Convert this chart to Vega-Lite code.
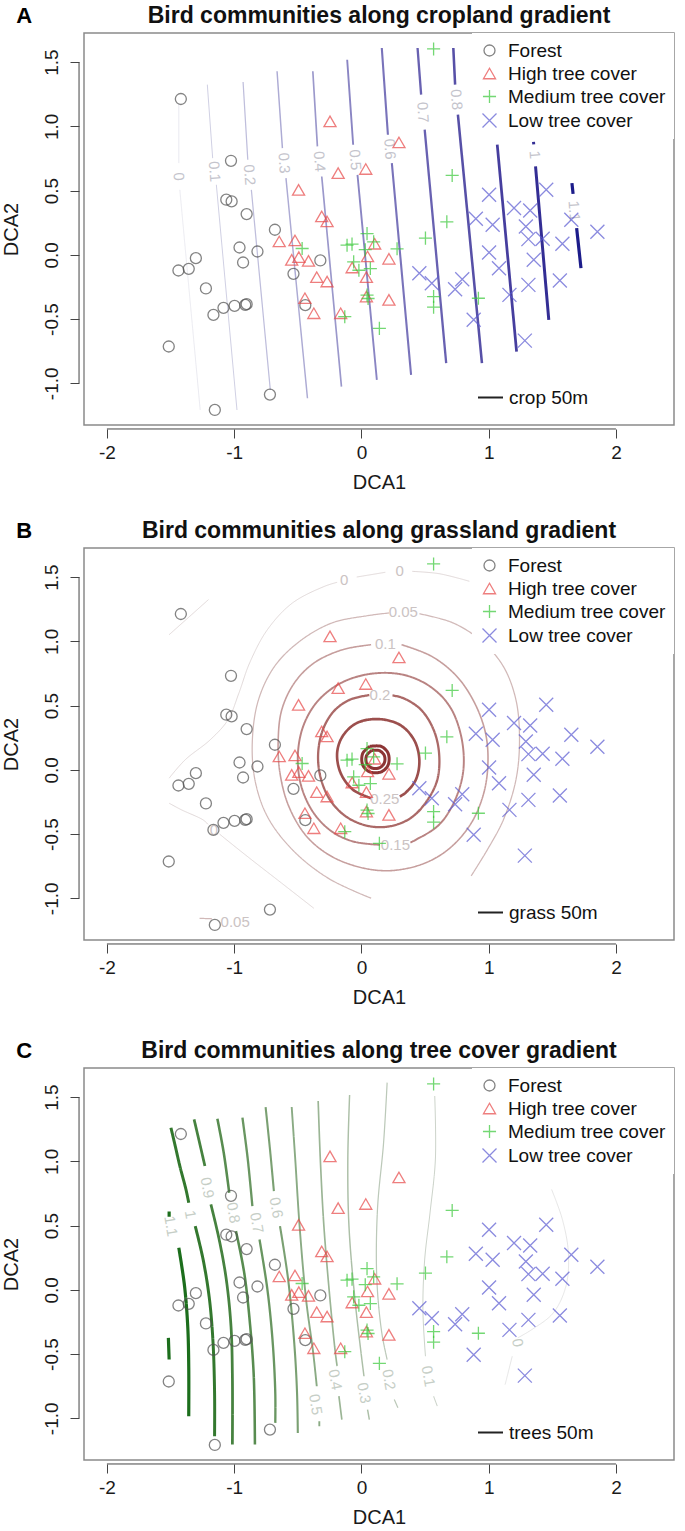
{
  "$schema": "https://vega.github.io/schema/vega-lite/v6.json",
  "padding": {"left": 0, "top": 3, "right": 0, "bottom": 0},
  "spacing": 25,
  "config": {
    "font": "Liberation Sans",
    "view": {"stroke": "#8a8a8a", "strokeWidth": 1.5},
    "axis": {"grid": false, "domain": false, "tickColor": "#444", "tickSize": 9, "tickWidth": 1, "labelFontSize": 19, "labelColor": "#1a1a1a", "titleFontSize": 20, "titleFontWeight": "normal", "titleColor": "#1a1a1a"},
    "title": {"fontSize": 23, "fontWeight": "bold", "color": "#111", "offset": -23.5},
    "legend": {"labelFontSize": 19, "labelColor": "#111"}
  },
  "resolve": {
    "scale": {"color": "independent", "strokeWidth": "independent", "strokeDash": "independent", "shape": "independent", "stroke": "independent", "size": "independent"},
    "legend": {"strokeDash": "independent", "shape": "independent", "stroke": "independent", "size": "independent"}
  },
  "datasets": {
    "pts": [
      {"g": "Forest", "x": -1.419, "y": 1.213}, {"g": "Forest", "x": -1.025, "y": 0.732}, {"g": "Forest", "x": -1.062, "y": 0.429}, {"g": "Forest", "x": -1.02, "y": 0.416},
      {"g": "Forest", "x": -0.902, "y": 0.317}, {"g": "Forest", "x": -0.68, "y": 0.195}, {"g": "Forest", "x": -0.958, "y": 0.057}, {"g": "Forest", "x": -0.817, "y": 0.026},
      {"g": "Forest", "x": -0.93, "y": -0.06}, {"g": "Forest", "x": -1.301, "y": -0.026}, {"g": "Forest", "x": -1.438, "y": -0.122}, {"g": "Forest", "x": -1.357, "y": -0.109},
      {"g": "Forest", "x": -0.323, "y": -0.044}, {"g": "Forest", "x": -0.534, "y": -0.148}, {"g": "Forest", "x": -1.222, "y": -0.262}, {"g": "Forest", "x": -1.163, "y": -0.468},
      {"g": "Forest", "x": -1.084, "y": -0.413}, {"g": "Forest", "x": -0.997, "y": -0.397}, {"g": "Forest", "x": -0.913, "y": -0.39}, {"g": "Forest", "x": -0.902, "y": -0.384},
      {"g": "Forest", "x": -0.441, "y": -0.392}, {"g": "Forest", "x": -1.514, "y": -0.714}, {"g": "Forest", "x": -0.719, "y": -1.088}, {"g": "Forest", "x": -1.152, "y": -1.208},
      {"g": "High tree cover", "x": -0.247, "y": 1.039}, {"g": "High tree cover", "x": 0.295, "y": 0.875}, {"g": "High tree cover", "x": -0.183, "y": 0.636}, {"g": "High tree cover", "x": 0.034, "y": 0.668},
      {"g": "High tree cover", "x": -0.494, "y": 0.506}, {"g": "High tree cover", "x": -0.312, "y": 0.299}, {"g": "High tree cover", "x": -0.27, "y": 0.26}, {"g": "High tree cover", "x": -0.646, "y": 0.104},
      {"g": "High tree cover", "x": -0.522, "y": 0.112}, {"g": "High tree cover", "x": -0.548, "y": -0.039}, {"g": "High tree cover", "x": -0.492, "y": -0.018}, {"g": "High tree cover", "x": -0.416, "y": -0.047},
      {"g": "High tree cover", "x": 0.104, "y": 0.086}, {"g": "High tree cover", "x": 0.048, "y": -0.013}, {"g": "High tree cover", "x": 0.216, "y": -0.031}, {"g": "High tree cover", "x": -0.073, "y": -0.099},
      {"g": "High tree cover", "x": 0.039, "y": -0.174}, {"g": "High tree cover", "x": -0.351, "y": -0.174}, {"g": "High tree cover", "x": -0.27, "y": -0.208}, {"g": "High tree cover", "x": -0.444, "y": -0.338},
      {"g": "High tree cover", "x": -0.374, "y": -0.455}, {"g": "High tree cover", "x": -0.163, "y": -0.455}, {"g": "High tree cover", "x": 0.039, "y": -0.325}, {"g": "High tree cover", "x": 0.216, "y": -0.351},
      {"g": "Medium tree cover", "x": 0.567, "y": 1.603}, {"g": "Medium tree cover", "x": 0.713, "y": 0.618}, {"g": "Medium tree cover", "x": 0.671, "y": 0.257}, {"g": "Medium tree cover", "x": 0.503, "y": 0.13},
      {"g": "Medium tree cover", "x": 0.28, "y": 0.047}, {"g": "Medium tree cover", "x": -0.466, "y": 0.049}, {"g": "Medium tree cover", "x": -0.113, "y": 0.075}, {"g": "Medium tree cover", "x": -0.074, "y": 0.083},
      {"g": "Medium tree cover", "x": 0.044, "y": 0.165}, {"g": "Medium tree cover", "x": 0.096, "y": 0.101}, {"g": "Medium tree cover", "x": -0.061, "y": -0.055}, {"g": "Medium tree cover", "x": 0.07, "y": -0.107},
      {"g": "Medium tree cover", "x": 0.044, "y": -0.314}, {"g": "Medium tree cover", "x": 0.052, "y": -0.34}, {"g": "Medium tree cover", "x": -0.131, "y": -0.482}, {"g": "Medium tree cover", "x": 0.141, "y": -0.573},
      {"g": "Medium tree cover", "x": 0.567, "y": -0.325}, {"g": "Medium tree cover", "x": 0.567, "y": -0.408}, {"g": "Medium tree cover", "x": 0.919, "y": -0.338}, {"g": "Medium tree cover", "x": 0.03, "y": 0.04},
      {"g": "Medium tree cover", "x": -0.02, "y": -0.12},
      {"g": "Low tree cover", "x": 1.003, "y": 0.468}, {"g": "Low tree cover", "x": 1.452, "y": 0.506}, {"g": "Low tree cover", "x": 1.199, "y": 0.364}, {"g": "Low tree cover", "x": 1.326, "y": 0.345},
      {"g": "Low tree cover", "x": 0.899, "y": 0.281}, {"g": "Low tree cover", "x": 1.031, "y": 0.234}, {"g": "Low tree cover", "x": 1.292, "y": 0.221}, {"g": "Low tree cover", "x": 1.649, "y": 0.273},
      {"g": "Low tree cover", "x": 1.854, "y": 0.179}, {"g": "Low tree cover", "x": 1.312, "y": 0.122}, {"g": "Low tree cover", "x": 1.424, "y": 0.125}, {"g": "Low tree cover", "x": 1.579, "y": 0.086},
      {"g": "Low tree cover", "x": 1.003, "y": 0.018}, {"g": "Low tree cover", "x": 1.354, "y": -0.039}, {"g": "Low tree cover", "x": 1.081, "y": -0.104}, {"g": "Low tree cover", "x": 0.455, "y": -0.143},
      {"g": "Low tree cover", "x": 0.553, "y": -0.221}, {"g": "Low tree cover", "x": 0.792, "y": -0.19}, {"g": "Low tree cover", "x": 0.736, "y": -0.268}, {"g": "Low tree cover", "x": 1.312, "y": -0.234},
      {"g": "Low tree cover", "x": 1.559, "y": -0.2}, {"g": "Low tree cover", "x": 1.163, "y": -0.312}, {"g": "Low tree cover", "x": 0.882, "y": -0.506}, {"g": "Low tree cover", "x": 1.284, "y": -0.668}
    ],
    "cA": [
      {"l": 0, "s": "0a", "i": 0, "x": -1.435, "y": 1.182, "v": "crop 50m"}, {"l": 0, "s": "0a", "i": 1, "x": -1.435, "y": 0.714, "v": "crop 50m"},
      {"l": 0, "s": "0b", "i": 0, "x": -1.427, "y": 0.506, "v": "crop 50m"}, {"l": 0, "s": "0b", "i": 1, "x": -1.267, "y": -1.208, "v": "crop 50m"},
      {"l": 0.1, "s": "1a", "i": 0, "x": -1.211, "y": 1.325, "v": "crop 50m"}, {"l": 0.1, "s": "1a", "i": 1, "x": -1.169, "y": 0.753, "v": "crop 50m"},
      {"l": 0.1, "s": "1b", "i": 0, "x": -1.14, "y": 0.545, "v": "crop 50m"}, {"l": 0.1, "s": "1b", "i": 1, "x": -0.978, "y": -1.208, "v": "crop 50m"},
      {"l": 0.2, "s": "2a", "i": 0, "x": -0.93, "y": 1.345, "v": "crop 50m"}, {"l": 0.2, "s": "2a", "i": 1, "x": -0.893, "y": 0.74, "v": "crop 50m"},
      {"l": 0.2, "s": "2b", "i": 0, "x": -0.865, "y": 0.506, "v": "crop 50m"}, {"l": 0.2, "s": "2b", "i": 1, "x": -0.716, "y": -1.052, "v": "crop 50m"},
      {"l": 0.3, "s": "3a", "i": 0, "x": -0.663, "y": 1.429, "v": "crop 50m"}, {"l": 0.3, "s": "3a", "i": 1, "x": -0.621, "y": 0.831, "v": "crop 50m"},
      {"l": 0.3, "s": "3b", "i": 0, "x": -0.593, "y": 0.597, "v": "crop 50m"}, {"l": 0.3, "s": "3b", "i": 1, "x": -0.424, "y": -1.117, "v": "crop 50m"},
      {"l": 0.4, "s": "4a", "i": 0, "x": -0.382, "y": 1.429, "v": "crop 50m"}, {"l": 0.4, "s": "4a", "i": 1, "x": -0.346, "y": 0.844, "v": "crop 50m"},
      {"l": 0.4, "s": "4b", "i": 0, "x": -0.312, "y": 0.61, "v": "crop 50m"}, {"l": 0.4, "s": "4b", "i": 1, "x": -0.157, "y": -1.026, "v": "crop 50m"},
      {"l": 0.5, "s": "5a", "i": 0, "x": -0.112, "y": 1.519, "v": "crop 50m"}, {"l": 0.5, "s": "5a", "i": 1, "x": -0.065, "y": 0.857, "v": "crop 50m"},
      {"l": 0.5, "s": "5b", "i": 0, "x": -0.031, "y": 0.623, "v": "crop 50m"}, {"l": 0.5, "s": "5b", "i": 1, "x": 0.121, "y": -0.974, "v": "crop 50m"},
      {"l": 0.6, "s": "6a", "i": 0, "x": 0.16, "y": 1.61, "v": "crop 50m"}, {"l": 0.6, "s": "6a", "i": 1, "x": 0.208, "y": 0.935, "v": "crop 50m"},
      {"l": 0.6, "s": "6b", "i": 0, "x": 0.239, "y": 0.714, "v": "crop 50m"}, {"l": 0.6, "s": "6b", "i": 1, "x": 0.39, "y": -0.935, "v": "crop 50m"},
      {"l": 0.7, "s": "7a", "i": 0, "x": 0.441, "y": 1.61, "v": "crop 50m"}, {"l": 0.7, "s": "7a", "i": 1, "x": 0.469, "y": 1.247, "v": "crop 50m"},
      {"l": 0.7, "s": "7b", "i": 0, "x": 0.497, "y": 0.974, "v": "crop 50m"}, {"l": 0.7, "s": "7b", "i": 1, "x": 0.666, "y": -0.844, "v": "crop 50m"},
      {"l": 0.8, "s": "8a", "i": 0, "x": 0.722, "y": 1.61, "v": "crop 50m"}, {"l": 0.8, "s": "8a", "i": 1, "x": 0.736, "y": 1.325, "v": "crop 50m"},
      {"l": 0.8, "s": "8b", "i": 0, "x": 0.758, "y": 1.091, "v": "crop 50m"}, {"l": 0.8, "s": "8b", "i": 1, "x": 0.947, "y": -0.844, "v": "crop 50m"},
      {"l": 0.9, "s": "9a", "i": 0, "x": 1.067, "y": 0.857, "v": "crop 50m"}, {"l": 0.9, "s": "9a", "i": 1, "x": 1.219, "y": -0.753, "v": "crop 50m"},
      {"l": 1.0, "s": "10a", "i": 0, "x": 1.352, "y": 0.88, "v": "crop 50m"}, {"l": 1.0, "s": "10a", "i": 1, "x": 1.354, "y": 0.86, "v": "crop 50m"},
      {"l": 1.0, "s": "10b", "i": 0, "x": 1.368, "y": 0.688, "v": "crop 50m"}, {"l": 1.0, "s": "10b", "i": 1, "x": 1.472, "y": -0.506, "v": "crop 50m"},
      {"l": 1.1, "s": "11a", "i": 0, "x": 1.654, "y": 0.558, "v": "crop 50m"}, {"l": 1.1, "s": "11a", "i": 1, "x": 1.663, "y": 0.475, "v": "crop 50m"},
      {"l": 1.1, "s": "11b", "i": 0, "x": 1.691, "y": 0.208, "v": "crop 50m"}, {"l": 1.1, "s": "11b", "i": 1, "x": 1.725, "y": -0.104, "v": "crop 50m"}
    ],
    "lA": [
      {"t": "0", "x": -1.435, "y": 0.61}, {"t": "0.1", "x": -1.154, "y": 0.649}, {"t": "0.2", "x": -0.879, "y": 0.623}, {"t": "0.3", "x": -0.607, "y": 0.714},
      {"t": "0.4", "x": -0.329, "y": 0.727}, {"t": "0.5", "x": -0.048, "y": 0.74}, {"t": "0.6", "x": 0.224, "y": 0.824}, {"t": "0.7", "x": 0.483, "y": 1.11},
      {"t": "0.8", "x": 0.747, "y": 1.208}, {"t": "1", "x": 1.362, "y": 0.779}, {"t": "1.1", "x": 1.672, "y": 0.341}
    ],
    "cB": [
      {"l": 0, "s": "0a", "i": 0, "x": -1.511, "y": 1.052, "v": "grass 50m"}, {"l": 0, "s": "0a", "i": 1, "x": -1.202, "y": 1.325, "v": "grass 50m"},
      {"l": 0, "s": "0b", "i": 0, "x": -0.374, "y": -1.078, "v": "grass 50m"}, {"l": 0, "s": "0b", "i": 1, "x": -0.626, "y": -0.883, "v": "grass 50m"}, {"l": 0, "s": "0b", "i": 2, "x": -0.879, "y": -0.688, "v": "grass 50m"},
      {"l": 0, "s": "0b", "i": 3, "x": -1.076, "y": -0.532, "v": "grass 50m"}, {"l": 0, "s": "0b", "i": 4, "x": -1.115, "y": -0.5, "v": "grass 50m"},
      {"l": 0, "s": "0f", "i": 0, "x": -1.205, "y": -0.425, "v": "grass 50m"}, {"l": 0, "s": "0f", "i": 1, "x": -1.244, "y": -0.39, "v": "grass 50m"}, {"l": 0, "s": "0f", "i": 2, "x": -1.413, "y": -0.312, "v": "grass 50m"},
      {"l": 0, "s": "0f", "i": 3, "x": -1.511, "y": -0.26, "v": "grass 50m"},
      {"l": 0, "s": "0c", "i": 0, "x": -1.511, "y": -0.065, "v": "grass 50m"}, {"l": 0, "s": "0c", "i": 1, "x": -1.385, "y": 0.078, "v": "grass 50m"}, {"l": 0, "s": "0c", "i": 2, "x": -1.188, "y": 0.234, "v": "grass 50m"},
      {"l": 0, "s": "0c", "i": 3, "x": -1.048, "y": 0.39, "v": "grass 50m"}, {"l": 0, "s": "0c", "i": 4, "x": -0.963, "y": 0.597, "v": "grass 50m"}, {"l": 0, "s": "0c", "i": 5, "x": -0.879, "y": 0.831, "v": "grass 50m"},
      {"l": 0, "s": "0c", "i": 6, "x": -0.739, "y": 1.091, "v": "grass 50m"}, {"l": 0, "s": "0c", "i": 7, "x": -0.542, "y": 1.299, "v": "grass 50m"}, {"l": 0, "s": "0c", "i": 8, "x": -0.289, "y": 1.429, "v": "grass 50m"},
      {"l": 0, "s": "0c", "i": 9, "x": -0.191, "y": 1.46, "v": "grass 50m"},
      {"l": 0, "s": "0d", "i": 0, "x": -0.037, "y": 1.501, "v": "grass 50m"}, {"l": 0, "s": "0d", "i": 1, "x": 0.188, "y": 1.538, "v": "grass 50m"},
      {"l": 0, "s": "0e", "i": 0, "x": 0.399, "y": 1.545, "v": "grass 50m"}, {"l": 0, "s": "0e", "i": 1, "x": 0.61, "y": 1.527, "v": "grass 50m"}, {"l": 0, "s": "0e", "i": 2, "x": 0.848, "y": 1.468, "v": "grass 50m"},
      {"l": 0.05, "s": "05a", "i": 0, "x": 0.216, "y": 1.221, "v": "grass 50m"}, {"l": 0.05, "s": "05a", "i": 1, "x": 0.048, "y": 1.2, "v": "grass 50m"}, {"l": 0.05, "s": "05a", "i": 2, "x": -0.233, "y": 1.143, "v": "grass 50m"},
      {"l": 0.05, "s": "05a", "i": 3, "x": -0.486, "y": 1.0, "v": "grass 50m"}, {"l": 0.05, "s": "05a", "i": 4, "x": -0.683, "y": 0.805, "v": "grass 50m"}, {"l": 0.05, "s": "05a", "i": 5, "x": -0.809, "y": 0.545, "v": "grass 50m"},
      {"l": 0.05, "s": "05a", "i": 6, "x": -0.857, "y": 0.234, "v": "grass 50m"}, {"l": 0.05, "s": "05a", "i": 7, "x": -0.837, "y": -0.078, "v": "grass 50m"}, {"l": 0.05, "s": "05a", "i": 8, "x": -0.739, "y": -0.364, "v": "grass 50m"},
      {"l": 0.05, "s": "05a", "i": 9, "x": -0.542, "y": -0.623, "v": "grass 50m"}, {"l": 0.05, "s": "05a", "i": 10, "x": -0.261, "y": -0.844, "v": "grass 50m"}, {"l": 0.05, "s": "05a", "i": 11, "x": 0.076, "y": -1.0, "v": "grass 50m"},
      {"l": 0.05, "s": "05b", "i": 0, "x": 0.455, "y": 1.215, "v": "grass 50m"}, {"l": 0.05, "s": "05b", "i": 1, "x": 0.722, "y": 1.143, "v": "grass 50m"}, {"l": 0.05, "s": "05b", "i": 2, "x": 0.947, "y": 1.0, "v": "grass 50m"},
      {"l": 0.05, "s": "05b", "i": 3, "x": 1.115, "y": 0.805, "v": "grass 50m"}, {"l": 0.05, "s": "05b", "i": 4, "x": 1.214, "y": 0.545, "v": "grass 50m"}, {"l": 0.05, "s": "05b", "i": 5, "x": 1.242, "y": 0.234, "v": "grass 50m"},
      {"l": 0.05, "s": "05b", "i": 6, "x": 1.214, "y": -0.078, "v": "grass 50m"}, {"l": 0.05, "s": "05b", "i": 7, "x": 1.115, "y": -0.39, "v": "grass 50m"}, {"l": 0.05, "s": "05b", "i": 8, "x": 0.989, "y": -0.623, "v": "grass 50m"},
      {"l": 0.05, "s": "05b", "i": 9, "x": 0.862, "y": -0.826, "v": "grass 50m"},
      {"l": 0.05, "s": "05c", "i": 0, "x": -1.272, "y": -1.156, "v": "grass 50m"}, {"l": 0.05, "s": "05c", "i": 1, "x": -1.174, "y": -1.16, "v": "grass 50m"},
      {"l": 0.1, "s": "1a", "i": 0, "x": 0.076, "y": 0.974, "v": "grass 50m"}, {"l": 0.1, "s": "1a", "i": 1, "x": -0.149, "y": 0.935, "v": "grass 50m"}, {"l": 0.1, "s": "1a", "i": 2, "x": -0.374, "y": 0.831, "v": "grass 50m"},
      {"l": 0.1, "s": "1a", "i": 3, "x": -0.528, "y": 0.675, "v": "grass 50m"}, {"l": 0.1, "s": "1a", "i": 4, "x": -0.626, "y": 0.467, "v": "grass 50m"}, {"l": 0.1, "s": "1a", "i": 5, "x": -0.654, "y": 0.234, "v": "grass 50m"},
      {"l": 0.1, "s": "1a", "i": 6, "x": -0.64, "y": -0.026, "v": "grass 50m"}, {"l": 0.1, "s": "1a", "i": 7, "x": -0.57, "y": -0.286, "v": "grass 50m"}, {"l": 0.1, "s": "1a", "i": 8, "x": -0.43, "y": -0.519, "v": "grass 50m"},
      {"l": 0.1, "s": "1a", "i": 9, "x": -0.233, "y": -0.675, "v": "grass 50m"}, {"l": 0.1, "s": "1a", "i": 10, "x": 0.02, "y": -0.766, "v": "grass 50m"}, {"l": 0.1, "s": "1a", "i": 11, "x": 0.244, "y": -0.784, "v": "grass 50m"},
      {"l": 0.1, "s": "1a", "i": 12, "x": 0.497, "y": -0.727, "v": "grass 50m"}, {"l": 0.1, "s": "1a", "i": 13, "x": 0.694, "y": -0.61, "v": "grass 50m"}, {"l": 0.1, "s": "1a", "i": 14, "x": 0.862, "y": -0.416, "v": "grass 50m"},
      {"l": 0.1, "s": "1a", "i": 15, "x": 0.961, "y": -0.182, "v": "grass 50m"}, {"l": 0.1, "s": "1a", "i": 16, "x": 0.994, "y": 0.052, "v": "grass 50m"}, {"l": 0.1, "s": "1a", "i": 17, "x": 0.975, "y": 0.286, "v": "grass 50m"},
      {"l": 0.1, "s": "1a", "i": 18, "x": 0.89, "y": 0.519, "v": "grass 50m"}, {"l": 0.1, "s": "1a", "i": 19, "x": 0.75, "y": 0.727, "v": "grass 50m"}, {"l": 0.1, "s": "1a", "i": 20, "x": 0.553, "y": 0.883, "v": "grass 50m"},
      {"l": 0.1, "s": "1a", "i": 21, "x": 0.315, "y": 0.974, "v": "grass 50m"},
      {"l": 0.15, "s": "15a", "i": 0, "x": 0.146, "y": -0.584, "v": "grass 50m"}, {"l": 0.15, "s": "15a", "i": 1, "x": -0.065, "y": -0.558, "v": "grass 50m"}, {"l": 0.15, "s": "15a", "i": 2, "x": -0.233, "y": -0.48, "v": "grass 50m"},
      {"l": 0.15, "s": "15a", "i": 3, "x": -0.374, "y": -0.338, "v": "grass 50m"}, {"l": 0.15, "s": "15a", "i": 4, "x": -0.472, "y": -0.13, "v": "grass 50m"}, {"l": 0.15, "s": "15a", "i": 5, "x": -0.5, "y": 0.104, "v": "grass 50m"},
      {"l": 0.15, "s": "15a", "i": 6, "x": -0.458, "y": 0.338, "v": "grass 50m"}, {"l": 0.15, "s": "15a", "i": 7, "x": -0.346, "y": 0.532, "v": "grass 50m"}, {"l": 0.15, "s": "15a", "i": 8, "x": -0.163, "y": 0.675, "v": "grass 50m"},
      {"l": 0.15, "s": "15a", "i": 9, "x": 0.076, "y": 0.748, "v": "grass 50m"}, {"l": 0.15, "s": "15a", "i": 10, "x": 0.329, "y": 0.74, "v": "grass 50m"}, {"l": 0.15, "s": "15a", "i": 11, "x": 0.539, "y": 0.649, "v": "grass 50m"},
      {"l": 0.15, "s": "15a", "i": 12, "x": 0.694, "y": 0.493, "v": "grass 50m"}, {"l": 0.15, "s": "15a", "i": 13, "x": 0.784, "y": 0.26, "v": "grass 50m"}, {"l": 0.15, "s": "15a", "i": 14, "x": 0.801, "y": 0.0, "v": "grass 50m"},
      {"l": 0.15, "s": "15a", "i": 15, "x": 0.736, "y": -0.234, "v": "grass 50m"}, {"l": 0.15, "s": "15a", "i": 16, "x": 0.61, "y": -0.428, "v": "grass 50m"}, {"l": 0.15, "s": "15a", "i": 17, "x": 0.427, "y": -0.545, "v": "grass 50m"},
      {"l": 0.15, "s": "15a", "i": 18, "x": 0.385, "y": -0.566, "v": "grass 50m"},
      {"l": 0.2, "s": "2a", "i": 0, "x": 0.062, "y": 0.582, "v": "grass 50m"}, {"l": 0.2, "s": "2a", "i": 1, "x": -0.093, "y": 0.545, "v": "grass 50m"}, {"l": 0.2, "s": "2a", "i": 2, "x": -0.219, "y": 0.454, "v": "grass 50m"},
      {"l": 0.2, "s": "2a", "i": 3, "x": -0.303, "y": 0.312, "v": "grass 50m"}, {"l": 0.2, "s": "2a", "i": 4, "x": -0.34, "y": 0.13, "v": "grass 50m"}, {"l": 0.2, "s": "2a", "i": 5, "x": -0.323, "y": -0.052, "v": "grass 50m"},
      {"l": 0.2, "s": "2a", "i": 6, "x": -0.247, "y": -0.234, "v": "grass 50m"}, {"l": 0.2, "s": "2a", "i": 7, "x": -0.121, "y": -0.364, "v": "grass 50m"}, {"l": 0.2, "s": "2a", "i": 8, "x": 0.048, "y": -0.436, "v": "grass 50m"},
      {"l": 0.2, "s": "2a", "i": 9, "x": 0.216, "y": -0.441, "v": "grass 50m"}, {"l": 0.2, "s": "2a", "i": 10, "x": 0.385, "y": -0.377, "v": "grass 50m"}, {"l": 0.2, "s": "2a", "i": 11, "x": 0.511, "y": -0.247, "v": "grass 50m"},
      {"l": 0.2, "s": "2a", "i": 12, "x": 0.596, "y": -0.078, "v": "grass 50m"}, {"l": 0.2, "s": "2a", "i": 13, "x": 0.61, "y": 0.13, "v": "grass 50m"}, {"l": 0.2, "s": "2a", "i": 14, "x": 0.567, "y": 0.312, "v": "grass 50m"},
      {"l": 0.2, "s": "2a", "i": 15, "x": 0.469, "y": 0.467, "v": "grass 50m"}, {"l": 0.2, "s": "2a", "i": 16, "x": 0.329, "y": 0.558, "v": "grass 50m"}, {"l": 0.2, "s": "2a", "i": 17, "x": 0.244, "y": 0.579, "v": "grass 50m"},
      {"l": 0.25, "s": "25a", "i": 0, "x": 0.076, "y": -0.221, "v": "grass 50m"}, {"l": 0.25, "s": "25a", "i": 1, "x": -0.065, "y": -0.156, "v": "grass 50m"}, {"l": 0.25, "s": "25a", "i": 2, "x": -0.163, "y": -0.026, "v": "grass 50m"},
      {"l": 0.25, "s": "25a", "i": 3, "x": -0.191, "y": 0.13, "v": "grass 50m"}, {"l": 0.25, "s": "25a", "i": 4, "x": -0.149, "y": 0.26, "v": "grass 50m"}, {"l": 0.25, "s": "25a", "i": 5, "x": -0.037, "y": 0.364, "v": "grass 50m"},
      {"l": 0.25, "s": "25a", "i": 6, "x": 0.132, "y": 0.395, "v": "grass 50m"}, {"l": 0.25, "s": "25a", "i": 7, "x": 0.301, "y": 0.351, "v": "grass 50m"}, {"l": 0.25, "s": "25a", "i": 8, "x": 0.413, "y": 0.234, "v": "grass 50m"},
      {"l": 0.25, "s": "25a", "i": 9, "x": 0.455, "y": 0.078, "v": "grass 50m"}, {"l": 0.25, "s": "25a", "i": 10, "x": 0.427, "y": -0.078, "v": "grass 50m"}, {"l": 0.25, "s": "25a", "i": 11, "x": 0.343, "y": -0.182, "v": "grass 50m"},
      {"l": 0.25, "s": "25a", "i": 12, "x": 0.301, "y": -0.208, "v": "grass 50m"},
      {"l": 0.3, "s": "3o", "i": 0, "x": 0.065, "y": 0.182, "v": "grass 50m"}, {"l": 0.3, "s": "3o", "i": 1, "x": 0.155, "y": 0.182, "v": "grass 50m"}, {"l": 0.3, "s": "3o", "i": 2, "x": 0.21, "y": 0.128, "v": "grass 50m"},
      {"l": 0.3, "s": "3o", "i": 3, "x": 0.21, "y": 0.038, "v": "grass 50m"}, {"l": 0.3, "s": "3o", "i": 4, "x": 0.155, "y": -0.016, "v": "grass 50m"}, {"l": 0.3, "s": "3o", "i": 5, "x": 0.065, "y": -0.016, "v": "grass 50m"},
      {"l": 0.3, "s": "3o", "i": 6, "x": 0.01, "y": 0.038, "v": "grass 50m"}, {"l": 0.3, "s": "3o", "i": 7, "x": 0.01, "y": 0.128, "v": "grass 50m"}, {"l": 0.3, "s": "3o", "i": 8, "x": 0.065, "y": 0.182, "v": "grass 50m"},
      {"l": 0.3, "s": "3i", "i": 0, "x": 0.08, "y": 0.15, "v": "grass 50m"}, {"l": 0.3, "s": "3i", "i": 1, "x": 0.14, "y": 0.15, "v": "grass 50m"}, {"l": 0.3, "s": "3i", "i": 2, "x": 0.18, "y": 0.11, "v": "grass 50m"},
      {"l": 0.3, "s": "3i", "i": 3, "x": 0.18, "y": 0.055, "v": "grass 50m"}, {"l": 0.3, "s": "3i", "i": 4, "x": 0.14, "y": 0.015, "v": "grass 50m"}, {"l": 0.3, "s": "3i", "i": 5, "x": 0.08, "y": 0.015, "v": "grass 50m"},
      {"l": 0.3, "s": "3i", "i": 6, "x": 0.04, "y": 0.055, "v": "grass 50m"}, {"l": 0.3, "s": "3i", "i": 7, "x": 0.04, "y": 0.11, "v": "grass 50m"}, {"l": 0.3, "s": "3i", "i": 8, "x": 0.08, "y": 0.15, "v": "grass 50m"}
    ],
    "lB": [
      {"t": "0", "x": -0.135, "y": 1.481}, {"t": "0", "x": 0.301, "y": 1.545}, {"t": "0.05", "x": 0.329, "y": 1.226}, {"t": "0.1", "x": 0.188, "y": 0.982},
      {"t": "0.2", "x": 0.146, "y": 0.584}, {"t": "0.25", "x": 0.183, "y": -0.229}, {"t": "0.15", "x": 0.267, "y": -0.584}, {"t": "0.05", "x": -0.992, "y": -1.182},
      {"t": "0", "x": -1.16, "y": -0.47}
    ],
    "cC": [
      {"l": 1.1, "s": "11a", "i": 0, "x": -1.511, "y": 0.61, "v": "trees 50m"}, {"l": 1.1, "s": "11a", "i": 1, "x": -1.511, "y": 0.569, "v": "trees 50m"},
      {"l": 1.1, "s": "11b", "i": 0, "x": -1.435, "y": 0.327, "v": "trees 50m"}, {"l": 1.1, "s": "11b", "i": 1, "x": -1.39, "y": 0.029, "v": "trees 50m"}, {"l": 1.1, "s": "11b", "i": 2, "x": -1.365, "y": -0.283, "v": "trees 50m"},
      {"l": 1.1, "s": "11b", "i": 3, "x": -1.357, "y": -0.595, "v": "trees 50m"}, {"l": 1.1, "s": "11b", "i": 4, "x": -1.357, "y": -0.984, "v": "trees 50m"},
      {"l": 1.1, "s": "11c", "i": 0, "x": -1.517, "y": -0.374, "v": "trees 50m"}, {"l": 1.1, "s": "11c", "i": 1, "x": -1.511, "y": -0.543, "v": "trees 50m"},
      {"l": 1.0, "s": "10a", "i": 0, "x": -1.497, "y": 1.262, "v": "trees 50m"}, {"l": 1.0, "s": "10a", "i": 1, "x": -1.463, "y": 1.119, "v": "trees 50m"}, {"l": 1.0, "s": "10a", "i": 2, "x": -1.427, "y": 0.964, "v": "trees 50m"},
      {"l": 1.0, "s": "10a", "i": 3, "x": -1.379, "y": 0.782, "v": "trees 50m"}, {"l": 1.0, "s": "10a", "i": 4, "x": -1.357, "y": 0.678, "v": "trees 50m"},
      {"l": 1.0, "s": "10b", "i": 0, "x": -1.306, "y": 0.496, "v": "trees 50m"}, {"l": 1.0, "s": "10b", "i": 1, "x": -1.244, "y": 0.236, "v": "trees 50m"}, {"l": 1.0, "s": "10b", "i": 2, "x": -1.194, "y": -0.075, "v": "trees 50m"},
      {"l": 1.0, "s": "10b", "i": 3, "x": -1.166, "y": -0.413, "v": "trees 50m"}, {"l": 1.0, "s": "10b", "i": 4, "x": -1.154, "y": -0.803, "v": "trees 50m"}, {"l": 1.0, "s": "10b", "i": 5, "x": -1.154, "y": -1.14, "v": "trees 50m"},
      {"l": 0.9, "s": "9a", "i": 0, "x": -1.315, "y": 1.327, "v": "trees 50m"}, {"l": 0.9, "s": "9a", "i": 1, "x": -1.272, "y": 1.145, "v": "trees 50m"}, {"l": 0.9, "s": "9a", "i": 2, "x": -1.23, "y": 0.964, "v": "trees 50m"},
      {"l": 0.9, "s": "9b", "i": 0, "x": -1.183, "y": 0.665, "v": "trees 50m"}, {"l": 0.9, "s": "9b", "i": 1, "x": -1.118, "y": 0.392, "v": "trees 50m"}, {"l": 0.9, "s": "9b", "i": 2, "x": -1.062, "y": 0.081, "v": "trees 50m"},
      {"l": 0.9, "s": "9b", "i": 3, "x": -1.025, "y": -0.283, "v": "trees 50m"}, {"l": 0.9, "s": "9b", "i": 4, "x": -1.014, "y": -0.673, "v": "trees 50m"}, {"l": 0.9, "s": "9b", "i": 5, "x": -1.014, "y": -1.205, "v": "trees 50m"},
      {"l": 0.8, "s": "8a", "i": 0, "x": -1.132, "y": 1.332, "v": "trees 50m"}, {"l": 0.8, "s": "8a", "i": 1, "x": -1.082, "y": 1.067, "v": "trees 50m"}, {"l": 0.8, "s": "8a", "i": 2, "x": -1.039, "y": 0.756, "v": "trees 50m"},
      {"l": 0.8, "s": "8b", "i": 0, "x": -0.986, "y": 0.457, "v": "trees 50m"}, {"l": 0.8, "s": "8b", "i": 1, "x": -0.921, "y": 0.132, "v": "trees 50m"}, {"l": 0.8, "s": "8b", "i": 2, "x": -0.874, "y": -0.283, "v": "trees 50m"},
      {"l": 0.8, "s": "8b", "i": 3, "x": -0.846, "y": -0.673, "v": "trees 50m"}, {"l": 0.8, "s": "8b", "i": 4, "x": -0.837, "y": -1.205, "v": "trees 50m"},
      {"l": 0.7, "s": "7a", "i": 0, "x": -0.935, "y": 1.34, "v": "trees 50m"}, {"l": 0.7, "s": "7a", "i": 1, "x": -0.893, "y": 1.015, "v": "trees 50m"}, {"l": 0.7, "s": "7a", "i": 2, "x": -0.857, "y": 0.652, "v": "trees 50m"},
      {"l": 0.7, "s": "7b", "i": 0, "x": -0.801, "y": 0.392, "v": "trees 50m"}, {"l": 0.7, "s": "7b", "i": 1, "x": -0.739, "y": 0.003, "v": "trees 50m"}, {"l": 0.7, "s": "7b", "i": 2, "x": -0.697, "y": -0.413, "v": "trees 50m"},
      {"l": 0.7, "s": "7b", "i": 3, "x": -0.677, "y": -0.803, "v": "trees 50m"}, {"l": 0.7, "s": "7b", "i": 4, "x": -0.677, "y": -1.036, "v": "trees 50m"},
      {"l": 0.6, "s": "6a", "i": 0, "x": -0.753, "y": 1.423, "v": "trees 50m"}, {"l": 0.6, "s": "6a", "i": 1, "x": -0.716, "y": 1.067, "v": "trees 50m"}, {"l": 0.6, "s": "6a", "i": 2, "x": -0.688, "y": 0.769, "v": "trees 50m"},
      {"l": 0.6, "s": "6b", "i": 0, "x": -0.64, "y": 0.496, "v": "trees 50m"}, {"l": 0.6, "s": "6b", "i": 1, "x": -0.576, "y": 0.081, "v": "trees 50m"}, {"l": 0.6, "s": "6b", "i": 2, "x": -0.528, "y": -0.413, "v": "trees 50m"},
      {"l": 0.6, "s": "6b", "i": 3, "x": -0.506, "y": -0.803, "v": "trees 50m"}, {"l": 0.6, "s": "6b", "i": 4, "x": -0.5, "y": -1.114, "v": "trees 50m"},
      {"l": 0.5, "s": "5a", "i": 0, "x": -0.548, "y": 1.423, "v": "trees 50m"}, {"l": 0.5, "s": "5a", "i": 1, "x": -0.52, "y": 1.015, "v": "trees 50m"}, {"l": 0.5, "s": "5a", "i": 2, "x": -0.486, "y": 0.496, "v": "trees 50m"},
      {"l": 0.5, "s": "5a", "i": 3, "x": -0.435, "y": -0.075, "v": "trees 50m"}, {"l": 0.5, "s": "5a", "i": 4, "x": -0.379, "y": -0.491, "v": "trees 50m"}, {"l": 0.5, "s": "5a", "i": 5, "x": -0.351, "y": -0.751, "v": "trees 50m"},
      {"l": 0.5, "s": "5b", "i": 0, "x": -0.331, "y": -1.023, "v": "trees 50m"}, {"l": 0.5, "s": "5b", "i": 1, "x": -0.331, "y": -1.062, "v": "trees 50m"},
      {"l": 0.4, "s": "4a", "i": 0, "x": -0.34, "y": 1.47, "v": "trees 50m"}, {"l": 0.4, "s": "4a", "i": 1, "x": -0.323, "y": 1.015, "v": "trees 50m"}, {"l": 0.4, "s": "4a", "i": 2, "x": -0.295, "y": 0.496, "v": "trees 50m"},
      {"l": 0.4, "s": "4a", "i": 3, "x": -0.247, "y": -0.075, "v": "trees 50m"}, {"l": 0.4, "s": "4a", "i": 4, "x": -0.205, "y": -0.491, "v": "trees 50m"}, {"l": 0.4, "s": "4a", "i": 5, "x": -0.191, "y": -0.595, "v": "trees 50m"},
      {"l": 0.4, "s": "4b", "i": 0, "x": -0.177, "y": -0.828, "v": "trees 50m"}, {"l": 0.4, "s": "4b", "i": 1, "x": -0.154, "y": -1.01, "v": "trees 50m"},
      {"l": 0.3, "s": "3a", "i": 0, "x": -0.093, "y": 1.517, "v": "trees 50m"}, {"l": 0.3, "s": "3a", "i": 1, "x": -0.107, "y": 1.015, "v": "trees 50m"}, {"l": 0.3, "s": "3a", "i": 2, "x": -0.098, "y": 0.496, "v": "trees 50m"},
      {"l": 0.3, "s": "3a", "i": 3, "x": -0.051, "y": -0.075, "v": "trees 50m"}, {"l": 0.3, "s": "3a", "i": 4, "x": -0.003, "y": -0.491, "v": "trees 50m"}, {"l": 0.3, "s": "3a", "i": 5, "x": 0.02, "y": -0.673, "v": "trees 50m"},
      {"l": 0.3, "s": "3b", "i": 0, "x": 0.048, "y": -0.932, "v": "trees 50m"}, {"l": 0.3, "s": "3b", "i": 1, "x": 0.062, "y": -1.01, "v": "trees 50m"},
      {"l": 0.2, "s": "2a", "i": 0, "x": 0.202, "y": 1.613, "v": "trees 50m"}, {"l": 0.2, "s": "2a", "i": 1, "x": 0.174, "y": 1.145, "v": "trees 50m"}, {"l": 0.2, "s": "2a", "i": 2, "x": 0.126, "y": 0.626, "v": "trees 50m"},
      {"l": 0.2, "s": "2a", "i": 3, "x": 0.121, "y": 0.081, "v": "trees 50m"}, {"l": 0.2, "s": "2a", "i": 4, "x": 0.16, "y": -0.335, "v": "trees 50m"}, {"l": 0.2, "s": "2a", "i": 5, "x": 0.202, "y": -0.543, "v": "trees 50m"},
      {"l": 0.2, "s": "2b", "i": 0, "x": 0.258, "y": -0.854, "v": "trees 50m"}, {"l": 0.2, "s": "2b", "i": 1, "x": 0.287, "y": -0.919, "v": "trees 50m"},
      {"l": 0.1, "s": "1a", "i": 0, "x": 0.576, "y": 1.509, "v": "trees 50m"}, {"l": 0.1, "s": "1a", "i": 1, "x": 0.581, "y": 1.015, "v": "trees 50m"}, {"l": 0.1, "s": "1a", "i": 2, "x": 0.539, "y": 0.6, "v": "trees 50m"},
      {"l": 0.1, "s": "1a", "i": 3, "x": 0.497, "y": 0.236, "v": "trees 50m"}, {"l": 0.1, "s": "1a", "i": 4, "x": 0.483, "y": -0.153, "v": "trees 50m"}, {"l": 0.1, "s": "1a", "i": 5, "x": 0.503, "y": -0.517, "v": "trees 50m"},
      {"l": 0.1, "s": "1b", "i": 0, "x": 0.567, "y": -0.829, "v": "trees 50m"}, {"l": 0.1, "s": "1b", "i": 1, "x": 0.596, "y": -0.906, "v": "trees 50m"},
      {"l": 0, "s": "0a", "i": 0, "x": 1.494, "y": 0.782, "v": "trees 50m"}, {"l": 0, "s": "0a", "i": 1, "x": 1.579, "y": 0.548, "v": "trees 50m"}, {"l": 0, "s": "0a", "i": 2, "x": 1.626, "y": 0.288, "v": "trees 50m"},
      {"l": 0, "s": "0a", "i": 3, "x": 1.607, "y": 0.029, "v": "trees 50m"}, {"l": 0, "s": "0a", "i": 4, "x": 1.508, "y": -0.179, "v": "trees 50m"}, {"l": 0, "s": "0a", "i": 5, "x": 1.34, "y": -0.309, "v": "trees 50m"},
      {"l": 0, "s": "0a", "i": 6, "x": 1.228, "y": -0.374, "v": "trees 50m"},
      {"l": 0, "s": "0b", "i": 0, "x": 1.185, "y": -0.517, "v": "trees 50m"}, {"l": 0, "s": "0b", "i": 1, "x": 1.129, "y": -0.738, "v": "trees 50m"}
    ],
    "lC": [
      {"t": "1.1", "x": -1.497, "y": 0.496}, {"t": "1", "x": -1.343, "y": 0.587}, {"t": "0.9", "x": -1.211, "y": 0.795}, {"t": "0.8", "x": -1.006, "y": 0.6},
      {"t": "0.7", "x": -0.823, "y": 0.522}, {"t": "0.6", "x": -0.669, "y": 0.639}, {"t": "0.5", "x": -0.36, "y": -0.893}, {"t": "0.4", "x": -0.205, "y": -0.699},
      {"t": "0.3", "x": 0.02, "y": -0.803}, {"t": "0.2", "x": 0.216, "y": -0.699}, {"t": "0.1", "x": 0.525, "y": -0.673}, {"t": "0", "x": 1.228, "y": -0.413}
    ]
  },
  "vconcat": [
    {
      "width": 590, "height": 392,
      "title": {"text": "Bird communities along cropland gradient"},
      "layer": [
        {"data": {"name": "cA"}, "mark": {"type": "line", "strokeCap": "butt"},
         "encoding": {
           "x": {"field": "x", "type": "quantitative", "scale": {"domain": [-2.18, 2.456], "nice": false, "zero": false},
                 "axis": {"values": [-2, -1, 0, 1, 2], "title": "DCA1", "offset": 4, "labelPadding": 5, "titlePadding": 10, "labelExpr": "(datum.value < 0 ? '-' : '') + format(abs(datum.value), 'd')"}},
           "y": {"field": "y", "type": "quantitative", "scale": {"domain": [-1.325, 1.727], "nice": false, "zero": false},
                 "axis": {"values": [-1, -0.5, 0, 0.5, 1, 1.5], "title": "DCA2", "offset": 5, "labelAngle": 270, "labelAlign": "center", "labelBaseline": "bottom", "labelPadding": 9, "titlePadding": 21, "labelExpr": "(datum.value < 0 ? '-' : '') + format(abs(datum.value), '.1f')"}},
           "detail": {"field": "s"}, "order": {"field": "i", "type": "quantitative"},
           "color": {"field": "l", "type": "quantitative", "scale": {"domain": [0, 1.1], "range": ["#e4e4ec", "#1c1c8a"]}, "legend": null},
           "strokeWidth": {"field": "l", "type": "quantitative", "scale": {"domain": [0, 1.1], "range": [0.8, 3.2]}, "legend": null},
           "strokeDash": {"field": "v", "type": "nominal", "scale": {"range": [[1, 0]]}, "legend": {"orient": "none", "legendX": 393, "legendY": 351, "title": null, "symbolType": "stroke", "symbolStrokeColor": "#222", "symbolStrokeWidth": 2, "symbolSize": 625, "labelFontSize": 19, "labelOffset": 5, "padding": 0}}}},
        {"data": {"name": "lA"}, "mark": {"type": "text", "angle": 86, "fontSize": 15, "fill": "#c4c4cc"},
         "encoding": {"x": {"field": "x", "type": "quantitative"}, "y": {"field": "y", "type": "quantitative"}, "text": {"field": "t"}}},
        {"data": {"name": "pts"}, "mark": {"type": "point", "filled": false, "strokeWidth": 1.3},
         "encoding": {
           "x": {"field": "x", "type": "quantitative"}, "y": {"field": "y", "type": "quantitative"},
           "shape": {"field": "g", "type": "nominal", "scale": {"domain": ["Forest", "High tree cover", "Medium tree cover", "Low tree cover"], "range": ["circle", "triangle-up", "M-1,0L1,0M0,-1L0,1", "M-1,-1L1,1M-1,1L1,-1"]}, "legend": {"orient": "top-right", "offset": 0, "padding": 8, "fillColor": "white", "rowPadding": 3, "labelOffset": 9, "title": null, "symbolStrokeWidth": 1.3}},
           "stroke": {"field": "g", "type": "nominal", "scale": {"domain": ["Forest", "High tree cover", "Medium tree cover", "Low tree cover"], "range": ["#505050", "#e84848", "#38c838", "#5a5ad2"]}, "legend": {"orient": "top-right", "offset": 0, "padding": 8, "fillColor": "white", "rowPadding": 3, "labelOffset": 9, "title": null, "symbolStrokeWidth": 1.3}},
           "size": {"field": "g", "type": "nominal", "scale": {"domain": ["Forest", "High tree cover", "Medium tree cover", "Low tree cover"], "range": [121, 196, 225, 144]}, "legend": {"orient": "top-right", "offset": 0, "padding": 8, "fillColor": "white", "rowPadding": 3, "labelOffset": 9, "title": null, "symbolStrokeWidth": 1.3}}}},
        {"data": {"values": [{"k": 1}]}, "mark": {"type": "rule", "color": "#444", "strokeWidth": 1, "clip": false}, "encoding": {"x": {"datum": -2}, "x2": {"datum": 2}, "y": {"datum": -1.356}}},
        {"data": {"values": [{"k": 1}]}, "mark": {"type": "rule", "color": "#444", "strokeWidth": 1, "clip": false}, "encoding": {"y": {"datum": -1}, "y2": {"datum": 1.5}, "x": {"datum": -2.219}}},
        {"data": {"values": [{"k": "A"}]}, "mark": {"type": "text", "fontSize": 22, "fontWeight": "bold", "fill": "#000", "clip": false}, "encoding": {"text": {"field": "k"}, "x": {"datum": -2.65}, "y": {"datum": 1.863}}}
      ]
    },
    {
      "spacing": 30,
      "resolve": {
        "scale": {"color": "independent", "strokeWidth": "independent", "strokeDash": "independent", "shape": "independent", "stroke": "independent", "size": "independent"},
        "legend": {"strokeDash": "independent", "shape": "independent", "stroke": "independent", "size": "independent"}
      },
      "vconcat": [
        {
          "width": 590, "height": 392,
          "title": {"text": "Bird communities along grassland gradient"},
          "layer": [
            {"data": {"name": "cB"}, "mark": {"type": "line", "interpolate": "catmull-rom", "strokeCap": "butt"},
             "encoding": {
               "x": {"field": "x", "type": "quantitative", "scale": {"domain": [-2.18, 2.456], "nice": false, "zero": false},
                     "axis": {"values": [-2, -1, 0, 1, 2], "title": "DCA1", "offset": 4, "labelPadding": 5, "titlePadding": 10, "labelExpr": "(datum.value < 0 ? '-' : '') + format(abs(datum.value), 'd')"}},
               "y": {"field": "y", "type": "quantitative", "scale": {"domain": [-1.325, 1.727], "nice": false, "zero": false},
                     "axis": {"values": [-1, -0.5, 0, 0.5, 1, 1.5], "title": "DCA2", "offset": 5, "labelAngle": 270, "labelAlign": "center", "labelBaseline": "bottom", "labelPadding": 9, "titlePadding": 21, "labelExpr": "(datum.value < 0 ? '-' : '') + format(abs(datum.value), '.1f')"}},
               "detail": {"field": "s"}, "order": {"field": "i", "type": "quantitative"},
               "color": {"field": "l", "type": "quantitative", "scale": {"domain": [0, 0.3], "range": ["#dcd4d4", "#8c3434"]}, "legend": null},
               "strokeWidth": {"field": "l", "type": "quantitative", "scale": {"domain": [0, 0.3], "range": [0.9, 3]}, "legend": null},
               "strokeDash": {"field": "v", "type": "nominal", "scale": {"range": [[1, 0]]}, "legend": {"orient": "none", "legendX": 393, "legendY": 351, "title": null, "symbolType": "stroke", "symbolStrokeColor": "#222", "symbolStrokeWidth": 2, "symbolSize": 625, "labelFontSize": 19, "labelOffset": 5, "padding": 0}}}},
            {"data": {"name": "lB"}, "mark": {"type": "text", "angle": 0, "fontSize": 15, "fill": "#cbc3c3"},
             "encoding": {"x": {"field": "x", "type": "quantitative"}, "y": {"field": "y", "type": "quantitative"}, "text": {"field": "t"}}},
            {"data": {"name": "pts"}, "mark": {"type": "point", "filled": false, "strokeWidth": 1.3},
             "encoding": {
               "x": {"field": "x", "type": "quantitative"}, "y": {"field": "y", "type": "quantitative"},
               "shape": {"field": "g", "type": "nominal", "scale": {"domain": ["Forest", "High tree cover", "Medium tree cover", "Low tree cover"], "range": ["circle", "triangle-up", "M-1,0L1,0M0,-1L0,1", "M-1,-1L1,1M-1,1L1,-1"]}, "legend": {"orient": "top-right", "offset": 0, "padding": 8, "fillColor": "white", "rowPadding": 3, "labelOffset": 9, "title": null, "symbolStrokeWidth": 1.3}},
               "stroke": {"field": "g", "type": "nominal", "scale": {"domain": ["Forest", "High tree cover", "Medium tree cover", "Low tree cover"], "range": ["#505050", "#e84848", "#38c838", "#5a5ad2"]}, "legend": {"orient": "top-right", "offset": 0, "padding": 8, "fillColor": "white", "rowPadding": 3, "labelOffset": 9, "title": null, "symbolStrokeWidth": 1.3}},
               "size": {"field": "g", "type": "nominal", "scale": {"domain": ["Forest", "High tree cover", "Medium tree cover", "Low tree cover"], "range": [121, 196, 225, 144]}, "legend": {"orient": "top-right", "offset": 0, "padding": 8, "fillColor": "white", "rowPadding": 3, "labelOffset": 9, "title": null, "symbolStrokeWidth": 1.3}}}},
            {"data": {"values": [{"k": 1}]}, "mark": {"type": "rule", "color": "#444", "strokeWidth": 1, "clip": false}, "encoding": {"x": {"datum": -2}, "x2": {"datum": 2}, "y": {"datum": -1.356}}},
            {"data": {"values": [{"k": 1}]}, "mark": {"type": "rule", "color": "#444", "strokeWidth": 1, "clip": false}, "encoding": {"y": {"datum": -1}, "y2": {"datum": 1.5}, "x": {"datum": -2.219}}},
            {"data": {"values": [{"k": "B"}]}, "mark": {"type": "text", "fontSize": 22, "fontWeight": "bold", "fill": "#000", "clip": false}, "encoding": {"text": {"field": "k"}, "x": {"datum": -2.65}, "y": {"datum": 1.863}}}
          ]
        },
        {
          "width": 590, "height": 392,
          "title": {"text": "Bird communities along tree cover gradient"},
          "layer": [
            {"data": {"name": "cC"}, "mark": {"type": "line", "interpolate": "catmull-rom", "strokeCap": "butt"},
             "encoding": {
               "x": {"field": "x", "type": "quantitative", "scale": {"domain": [-2.18, 2.456], "nice": false, "zero": false},
                     "axis": {"values": [-2, -1, 0, 1, 2], "title": "DCA1", "offset": 4, "labelPadding": 5, "titlePadding": 10, "labelExpr": "(datum.value < 0 ? '-' : '') + format(abs(datum.value), 'd')"}},
               "y": {"field": "y", "type": "quantitative", "scale": {"domain": [-1.325, 1.727], "nice": false, "zero": false},
                     "axis": {"values": [-1, -0.5, 0, 0.5, 1, 1.5], "title": "DCA2", "offset": 5, "labelAngle": 270, "labelAlign": "center", "labelBaseline": "bottom", "labelPadding": 9, "titlePadding": 21, "labelExpr": "(datum.value < 0 ? '-' : '') + format(abs(datum.value), '.1f')"}},
               "detail": {"field": "s"}, "order": {"field": "i", "type": "quantitative"},
               "color": {"field": "l", "type": "quantitative", "scale": {"domain": [0, 1.1], "range": ["#dedede", "#1c6e1c"]}, "legend": null},
               "strokeWidth": {"field": "l", "type": "quantitative", "scale": {"domain": [0, 1.1], "range": [0.8, 3.2]}, "legend": null},
               "strokeDash": {"field": "v", "type": "nominal", "scale": {"range": [[1, 0]]}, "legend": {"orient": "none", "legendX": 393, "legendY": 351, "title": null, "symbolType": "stroke", "symbolStrokeColor": "#222", "symbolStrokeWidth": 2, "symbolSize": 625, "labelFontSize": 19, "labelOffset": 5, "padding": 0}}}},
            {"data": {"name": "lC"}, "mark": {"type": "text", "angle": 80, "fontSize": 15, "fill": "#c6cec6"},
             "encoding": {"x": {"field": "x", "type": "quantitative"}, "y": {"field": "y", "type": "quantitative"}, "text": {"field": "t"}}},
            {"data": {"name": "pts"}, "mark": {"type": "point", "filled": false, "strokeWidth": 1.3},
             "encoding": {
               "x": {"field": "x", "type": "quantitative"}, "y": {"field": "y", "type": "quantitative"},
               "shape": {"field": "g", "type": "nominal", "scale": {"domain": ["Forest", "High tree cover", "Medium tree cover", "Low tree cover"], "range": ["circle", "triangle-up", "M-1,0L1,0M0,-1L0,1", "M-1,-1L1,1M-1,1L1,-1"]}, "legend": {"orient": "top-right", "offset": 0, "padding": 8, "fillColor": "white", "rowPadding": 3, "labelOffset": 9, "title": null, "symbolStrokeWidth": 1.3}},
               "stroke": {"field": "g", "type": "nominal", "scale": {"domain": ["Forest", "High tree cover", "Medium tree cover", "Low tree cover"], "range": ["#505050", "#e84848", "#38c838", "#5a5ad2"]}, "legend": {"orient": "top-right", "offset": 0, "padding": 8, "fillColor": "white", "rowPadding": 3, "labelOffset": 9, "title": null, "symbolStrokeWidth": 1.3}},
               "size": {"field": "g", "type": "nominal", "scale": {"domain": ["Forest", "High tree cover", "Medium tree cover", "Low tree cover"], "range": [121, 196, 225, 144]}, "legend": {"orient": "top-right", "offset": 0, "padding": 8, "fillColor": "white", "rowPadding": 3, "labelOffset": 9, "title": null, "symbolStrokeWidth": 1.3}}}},
            {"data": {"values": [{"k": 1}]}, "mark": {"type": "rule", "color": "#444", "strokeWidth": 1, "clip": false}, "encoding": {"x": {"datum": -2}, "x2": {"datum": 2}, "y": {"datum": -1.356}}},
            {"data": {"values": [{"k": 1}]}, "mark": {"type": "rule", "color": "#444", "strokeWidth": 1, "clip": false}, "encoding": {"y": {"datum": -1}, "y2": {"datum": 1.5}, "x": {"datum": -2.219}}},
            {"data": {"values": [{"k": "C"}]}, "mark": {"type": "text", "fontSize": 22, "fontWeight": "bold", "fill": "#000", "clip": false}, "encoding": {"text": {"field": "k"}, "x": {"datum": -2.65}, "y": {"datum": 1.863}}}
          ]
        }
      ]
    }
  ]
}
